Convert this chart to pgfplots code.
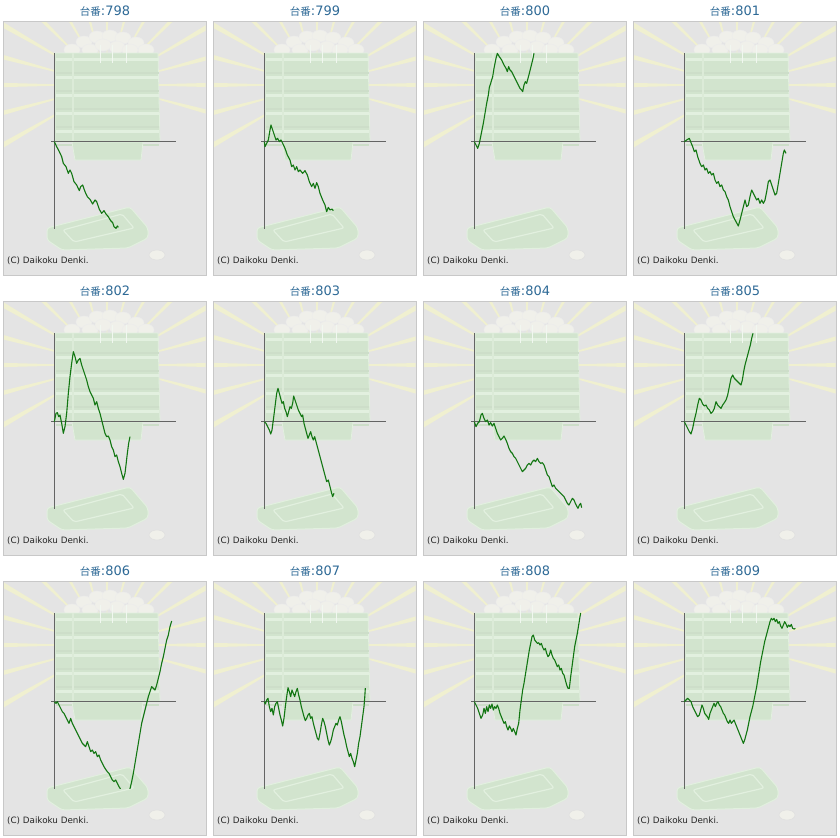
\documentclass[border=0pt]{standalone}
\usepackage{pgfplots}
\pgfplotsset{compat=1.18}
\usepackage{fontspec}
\setmainfont{DejaVu Sans}
\newfontfamily\cjk{Noto Sans CJK JP}
\definecolor{bgcol}{RGB}{228,228,228}
\definecolor{boxcol}{RGB}{200,200,200}
\definecolor{raycol}{RGB}{240,240,208}
\definecolor{traycol}{RGB}{210,228,206}
\definecolor{traylight}{RGB}{226,240,223}
\definecolor{coincol}{RGB}{240,240,234}
\definecolor{titlecol}{RGB}{45,105,150}
\definecolor{axcol}{RGB}{100,100,100}
\definecolor{linecol}{RGB}{18,118,18}
\newcommand{\panelframe}[3]{%
\begin{scope}[x=1bp,y=1bp,shift={(#1,-#2)},yscale=-1]
  \fill[white] (0,0) rectangle (210,280);
  \fill[bgcol] (3,21) rectangle (206,275);
  \begin{scope}
    \clip (3.5,21.5) rectangle (205.5,274.5);
    \begin{scope}[shift={(107,85)}]
      \foreach \a in {150,165,...,375}{
        \fill[raycol] (\a-0.4:30) -- (\a-1.3:175) -- (\a+1.3:175) -- (\a+0.4:30) -- cycle;
      }
    \end{scope}
    \foreach \cx/\cy in {72/50,84/42,97/37,110/36,123/38,136/43,146/50,90/50,117/47,103/45,130/50}{
      \filldraw[fill=coincol,draw=white!85!gray,line width=0.4bp] (\cx,\cy) ellipse (8 and 6);
    }
    \filldraw[fill=traycol,draw=traylight,line width=0.8bp] (55,53) -- (158,53) -- (160,142) -- (55,142) -- cycle;
    \foreach \yy in {58,76,94,112,130}{
      \fill[traylight] (56,\yy) rectangle (159,\yy+2.5);
      \fill[traycol!94!gray] (56,\yy+14) rectangle (159,\yy+15.5);
    }
    \fill[traylight!60!traycol] (72,53) rectangle (74,142);
    \filldraw[fill=traycol,draw=traylight,line width=0.8bp] (72,142) -- (143,142) -- (141,160) -- (75,160) -- cycle;
    \foreach \xx in {100,112,126}{
      \draw[white!70!traycol,line width=0.8bp] (\xx,45) -- (\xx,63);
    }
    \filldraw[fill=traycol,draw=traylight,line width=1bp,rounded corners=3bp]
      (47,228) -- (130,207) -- (148,228) -- (148,238) -- (128,248) -- (62,250) -- (47,240) -- cycle;
    \draw[traylight,line width=1.2bp,rounded corners=2bp] (63,230) -- (122,214) -- (134,228) -- (74,242) -- cycle;
    \filldraw[fill=coincol,draw=white!75!gray,line width=0.5bp] (157,255) ellipse (8 and 5);
  \end{scope}
  \draw[boxcol,line width=0.8bp] (3,21) rectangle (206,275);
  \node[text=titlecol,inner sep=0pt] at (105,11.5) {{\cjk\fontsize{10.5}{12}\selectfont 台番}\fontsize{13}{14}\selectfont :#3};
  \node[anchor=base west,inner sep=0pt,text=black!85] at (7,263) {\fontsize{8.8}{10}\selectfont (C) Daikoku Denki.};
\end{scope}}
\pgfplotsset{panel/.style={scale only axis, width=124.667bp, height=176bp,
  xmin=-10, xmax=364, ymin=-261, ymax=267, enlargelimits=false,
  axis lines=middle, axis line style={draw=axcol, line width=1bp, -},
  every inner x axis line/.append style={-}, every inner y axis line/.append style={-},
  xtick=\empty, ytick=\empty, anchor=south west},
  dline/.style={linecol, line width=1.1bp, mark=none, line join=round}}
\begin{document}
\begin{tikzpicture}
\useasboundingbox (0bp,0bp) rectangle (840bp,-838bp);
\fill[white] (0bp,0bp) rectangle (840bp,-838bp);
\panelframe{0}{0}{798}
\panelframe{210}{0}{799}
\panelframe{420}{0}{800}
\panelframe{630}{0}{801}
\panelframe{0}{280}{802}
\panelframe{210}{280}{803}
\panelframe{420}{280}{804}
\panelframe{630}{280}{805}
\panelframe{0}{560}{806}
\panelframe{210}{560}{807}
\panelframe{420}{560}{808}
\panelframe{630}{560}{809}
% 798
\begin{axis}[panel, at={(51bp,-228.667bp)}]
\addplot[dline] coordinates {(0,0) (7,-15) (15,-30) (22,-45) (27,-65) (35,-75) (42,-95) (47,-85) (52,-95) (59,-120) (67,-130) (75,-147) (79,-135) (85,-130) (92,-150) (99,-165) (107,-173) (115,-187) (122,-175) (127,-180) (135,-203) (142,-215) (149,-207) (155,-217) (162,-225) (169,-237) (175,-243) (179,-255) (185,-260) (189,-253) (192,-257)};
\end{axis}
% 799
\begin{axis}[panel, at={(261bp,-228.667bp)}]
\addplot[dline] coordinates {(0,0) (2,-15) (7,-5) (12,5) (17,35) (20,50) (25,35) (30,20) (35,5) (40,10) (45,0) (50,5) (55,-5) (62,-20) (69,-40) (77,-55) (82,-75) (87,-70) (92,-85) (97,-75) (102,-90) (107,-85) (115,-95) (122,-87) (129,-100) (135,-120) (142,-135) (147,-125) (152,-140) (157,-123) (162,-135) (167,-155) (175,-175) (182,-190) (187,-210) (192,-197) (197,-205) (203,-202) (207,-207)};
\end{axis}
% 800
\begin{axis}[panel, at={(471bp,-228.667bp)}]
\addplot[dline] coordinates {(0,0) (10,-20) (15,-5) (20,20) (27,55) (32,85) (37,115) (42,140) (45,163) (49,175) (55,195) (59,220) (65,250) (69,265) (75,255) (82,245) (89,230) (95,220) (99,210) (103,225) (107,215) (112,210) (117,200) (122,190) (127,180) (132,170) (137,160) (142,155) (145,150) (149,170) (153,180) (157,175) (161,190) (165,205) (170,225) (175,245) (179,265)};
\end{axis}
% 801
\begin{axis}[panel, at={(681bp,-228.667bp)}]
\addplot[dline] coordinates {(0,0) (7,5) (15,10) (20,-3) (25,-15) (30,-30) (35,-25) (40,-45) (47,-65) (52,-75) (57,-70) (62,-85) (67,-80) (72,-95) (77,-90) (82,-100) (87,-95) (92,-115) (97,-125) (102,-120) (107,-135) (112,-130) (117,-145) (122,-150) (127,-165) (132,-175) (137,-195) (142,-210) (147,-225) (155,-240) (162,-253) (167,-235) (172,-215) (177,-195) (182,-175) (187,-195) (192,-190) (197,-165) (202,-145) (207,-155) (212,-165) (217,-175) (222,-170) (227,-185) (232,-175) (237,-185) (242,-175) (247,-150) (252,-120) (257,-115) (262,-130) (267,-145) (272,-160) (277,-155) (282,-125) (287,-95) (292,-65) (297,-35) (300,-25) (305,-35)};
\end{axis}
% 802
\begin{axis}[panel, at={(51bp,-508.667bp)}]
\addplot[dline] coordinates {(0,0) (5,25) (9,27) (13,15) (17,20) (22,-5) (27,-35) (32,-15) (37,25) (42,85) (47,135) (52,175) (57,210) (62,195) (67,175) (72,185) (77,190) (82,170) (87,155) (92,140) (97,125) (102,105) (107,90) (112,80) (117,70) (122,50) (127,60) (132,40) (137,25) (142,5) (147,-15) (152,-35) (157,-45) (162,-43) (167,-55) (172,-75) (177,-85) (182,-105) (187,-100) (192,-120) (197,-135) (202,-155) (207,-173) (212,-155) (215,-130) (219,-95) (223,-65) (227,-45)};
\end{axis}
% 803
\begin{axis}[panel, at={(261bp,-508.667bp)}]
\addplot[dline] coordinates {(0,0) (5,-5) (10,-15) (15,-25) (19,-37) (23,-25) (27,5) (32,45) (37,85) (41,100) (45,85) (49,70) (53,55) (57,60) (61,40) (65,30) (69,15) (73,30) (77,45) (81,40) (85,55) (88,77) (92,65) (97,50) (102,35) (107,25) (112,15) (115,20) (119,-5) (123,-20) (127,-35) (131,-50) (135,-40) (139,-30) (143,-45) (147,-55) (151,-45) (155,-60) (159,-75) (163,-90) (167,-105) (171,-120) (175,-135) (179,-150) (183,-165) (187,-180) (192,-175) (197,-195) (202,-215) (205,-225) (209,-215)};
\end{axis}
% 804
\begin{axis}[panel, at={(471bp,-508.667bp)}]
\addplot[dline] coordinates {(0,0) (5,-15) (10,-5) (15,0) (20,20) (24,25) (29,10) (34,0) (39,5) (44,-10) (49,-3) (54,-13) (59,-5) (64,-20) (69,-35) (74,-45) (79,-55) (84,-50) (89,-43) (94,-53) (99,-65) (104,-80) (109,-90) (114,-95) (119,-105) (124,-110) (129,-120) (134,-130) (139,-140) (144,-150) (149,-145) (154,-140) (159,-130) (164,-125) (169,-130) (174,-120) (179,-115) (184,-120) (189,-110) (194,-120) (199,-125) (204,-123) (209,-130) (214,-145) (219,-160) (224,-165) (229,-180) (234,-195) (239,-190) (244,-200) (249,-205) (254,-210) (259,-215) (264,-220) (269,-225) (274,-235) (279,-245) (284,-250) (289,-240) (294,-230) (299,-235) (303,-245) (307,-253) (311,-260) (315,-250) (319,-245) (322,-258)};
\end{axis}
% 805
\begin{axis}[panel, at={(681bp,-508.667bp)}]
\addplot[dline] coordinates {(0,0) (5,-10) (10,-20) (15,-30) (20,-37) (25,-20) (30,5) (35,25) (40,50) (45,70) (50,65) (55,53) (60,47) (65,50) (70,40) (75,35) (80,25) (85,30) (90,40) (95,60) (100,50) (105,45) (110,40) (115,50) (120,57) (125,65) (130,80) (135,105) (140,130) (145,140) (150,130) (155,125) (160,120) (165,115) (170,110) (174,125) (178,150) (182,170) (186,185) (190,200) (194,215) (198,230) (202,250) (206,265)};
\end{axis}
% 806
\begin{axis}[panel, at={(51bp,-788.667bp)}]
\addplot[dline] coordinates {(0,0) (5,-5) (9,0) (14,-10) (19,-20) (24,-30) (29,-35) (34,-45) (39,-55) (44,-65) (49,-50) (54,-65) (59,-75) (64,-85) (69,-95) (74,-105) (79,-115) (84,-125) (89,-130) (94,-135) (99,-120) (104,-135) (109,-150) (114,-145) (119,-155) (124,-150) (129,-165) (134,-160) (139,-175) (144,-185) (149,-195) (154,-203) (159,-210) (164,-215) (169,-225) (174,-235) (179,-240) (184,-235) (189,-245) (194,-255) (198,-261) (203,-285) (215,-285) (227,-261) (232,-240) (237,-215) (242,-185) (247,-155) (252,-125) (257,-95) (262,-65) (267,-45) (272,-25) (277,-5) (282,15) (287,30) (292,45) (297,40) (302,35) (307,50) (312,70) (317,90) (322,115) (327,135) (332,160) (337,185) (342,200) (347,225) (352,242)};
\end{axis}
% 807
\begin{axis}[panel, at={(261bp,-788.667bp)}]
\addplot[dline] coordinates {(0,0) (3,-7) (7,5) (11,10) (15,-15) (19,-30) (23,-20) (27,-40) (31,-15) (35,-5) (39,0) (43,-20) (47,-40) (51,-55) (55,-73) (59,-50) (63,-15) (67,15) (71,42) (75,30) (79,15) (83,35) (87,25) (91,15) (95,30) (99,40) (103,20) (107,5) (111,-15) (115,-30) (119,-45) (123,-57) (127,-50) (131,-40) (135,-35) (139,-50) (143,-45) (147,-65) (151,-80) (155,-95) (159,-110) (163,-115) (167,-95) (171,-70) (175,-50) (179,-60) (183,-75) (187,-95) (191,-115) (195,-130) (199,-120) (203,-105) (207,-85) (211,-75) (215,-65) (219,-70) (223,-55) (227,-45) (231,-60) (235,-80) (239,-100) (243,-115) (247,-135) (251,-150) (255,-165) (259,-155) (263,-170) (267,-180) (271,-195) (275,-175) (279,-155) (283,-125) (287,-105) (291,-75) (295,-45) (299,-15) (301,10) (303,41)};
\end{axis}
% 808
\begin{axis}[panel, at={(471bp,-788.667bp)}]
\addplot[dline] coordinates {(0,0) (5,-10) (10,-20) (15,-35) (20,-50) (25,-40) (29,-20) (33,-35) (37,-15) (41,-30) (45,-10) (49,-20) (53,-7) (57,-25) (61,-15) (65,-20) (69,-10) (73,-20) (77,-35) (81,-45) (85,-55) (89,-65) (93,-60) (97,-75) (101,-85) (105,-73) (109,-80) (113,-90) (117,-80) (121,-90) (125,-100) (129,-80) (133,-65) (137,-25) (141,5) (145,35) (149,55) (153,80) (157,105) (161,130) (165,155) (169,175) (173,195) (177,200) (181,185) (185,180) (189,175) (193,177) (197,170) (201,175) (205,163) (209,155) (213,160) (217,145) (221,135) (225,140) (229,155) (233,140) (237,130) (241,125) (245,115) (249,105) (253,110) (257,95) (261,100) (265,85) (269,80) (273,65) (277,50) (281,40) (285,40) (289,75) (293,105) (297,135) (301,165) (305,185) (309,205) (313,230) (317,255) (319,266)};
\end{axis}
% 809
\begin{axis}[panel, at={(681bp,-788.667bp)}]
\addplot[dline] coordinates {(0,0) (5,5) (10,10) (15,5) (20,0) (25,-15) (30,-25) (35,-35) (40,-45) (45,-40) (49,-25) (53,-10) (57,-20) (61,-35) (65,-40) (69,-45) (73,-53) (77,-35) (81,-25) (85,-15) (89,-5) (93,-15) (97,-5) (101,0) (105,-10) (109,-15) (113,-25) (117,-35) (121,-40) (125,-50) (129,-60) (133,-65) (137,-55) (141,-65) (145,-60) (149,-55) (153,-65) (157,-75) (161,-85) (165,-95) (169,-105) (173,-115) (177,-125) (181,-115) (185,-100) (189,-85) (193,-65) (197,-45) (201,-30) (205,-15) (209,5) (213,25) (217,45) (221,70) (225,95) (229,120) (233,140) (237,160) (241,180) (245,195) (249,210) (253,225) (257,240) (261,250) (265,245) (269,250) (273,240) (277,247) (281,235) (285,240) (289,227) (293,220) (297,230) (301,240) (305,233) (309,223) (313,230) (317,225) (321,232) (325,220) (329,218) (333,220)};
\end{axis}
\end{tikzpicture}
\end{document}
